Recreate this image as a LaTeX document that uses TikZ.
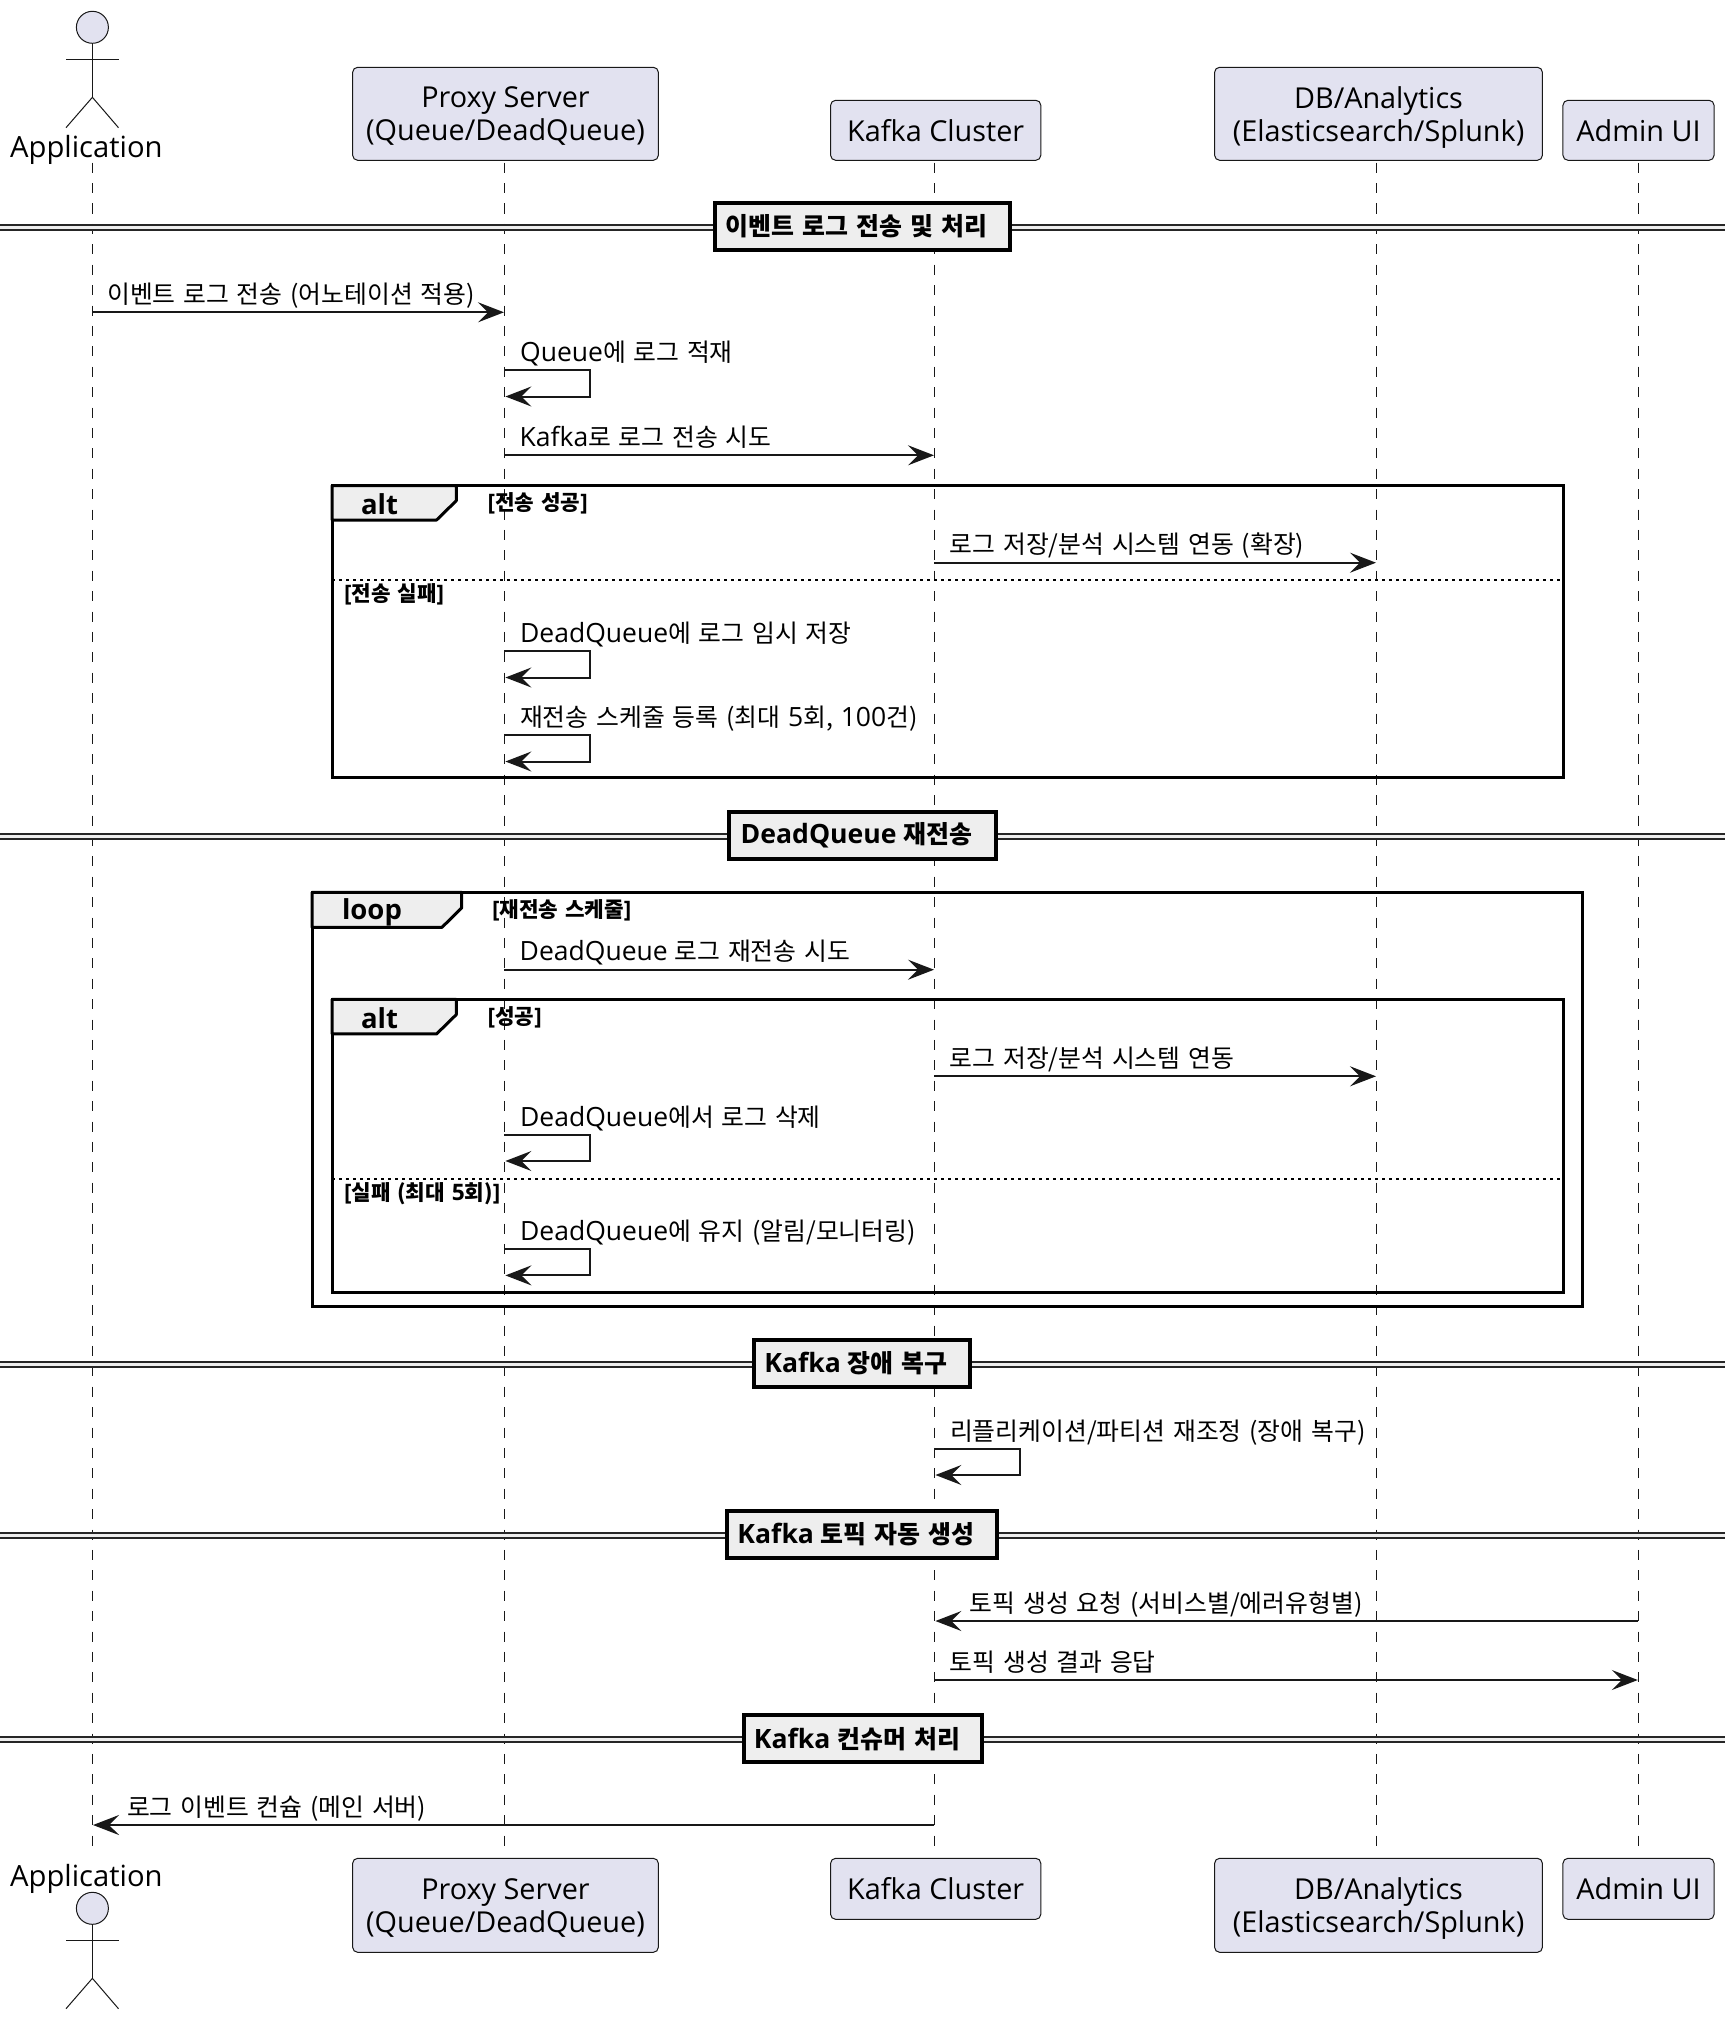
\documentclass[tikz,border=0pt]{standalone}
\usepackage{fontspec}
\setmainfont{Open Sans}
\newfontfamily\krfont[Scale=0.937,WordSpace=1.4]{Noto Sans CJK KR}
\usetikzlibrary{arrows.meta}
\newcommand\K[1]{{\krfont #1}}
\definecolor{ink}{HTML}{181818}
\definecolor{partfill}{HTML}{E2E2F0}
\definecolor{grp}{HTML}{EEEEEE}
\tikzset{
  part/.style={draw=ink,fill=partfill,line width=1pt,rounded corners=5pt,inner sep=0pt,align=center,font=\fontsize{28.8}{33}\selectfont,text=black},
  parttwo/.style={part,text depth=-1pt},
  actorname/.style={inner sep=0pt,font=\fontsize{29.2}{33}\selectfont,text=black,anchor=base},
  life/.style={draw=ink,line width=1pt,dash pattern=on 10pt off 10.4pt},
  msgline/.style={draw=ink,line width=2pt,-{Stealth[length=26pt,width=20pt,inset=10pt]}},
  msgtext/.style={inner sep=0pt,anchor=base west,font=\fontsize{26.5}{30}\selectfont,text=black},
  framebox/.style={draw=black,line width=3pt},
  tab/.style={draw=black,fill=grp,line width=3pt,line join=round},
  tabtext/.style={inner sep=0pt,font=\fontsize{27.5}{30}\selectfont\bfseries},
  guard/.style={inner sep=0pt,anchor=west,font=\fontsize{22.7}{26}\selectfont\bfseries},
  sep/.style={draw=black,line width=2pt,dash pattern=on 3pt off 4pt},
  divbox/.style={draw=black,fill=grp,line width=4pt,inner sep=0pt,font=\fontsize{26.6}{30}\selectfont\bfseries},
  divline/.style={draw=black!85,line width=2pt,double=grp,double distance=3pt},
}
\newcommand\Msg[6]{%
  \coordinate (#1s) at (#2,#4);
  \coordinate (#1e) at (#3,#4);
  \draw[msgline] (#1s) -- (#1e);
  \node[msgtext] (#1t) at (#5,#4-9) {#6};
}
\newcommand\Self[5]{%
  \coordinate (#1s) at (#2,#3);
  \coordinate (#1a) at (#2+85.5,#3);
  \coordinate (#1b) at (#2+85.5,#3+26.2);
  \coordinate (#1e) at (#2+1,#3+26.2);
  \draw[msgline,line join=miter] (#1s) -- (#1a) -- (#1b) -- (#1e);
  \node[msgtext] (#1t) at (#2+15.5,#3-8.7) {#5};
}
\newcommand\Divider[6]{%
  \coordinate (#1l) at (0,#2);
  \coordinate (#1r) at (1725,#2);
  \node[divbox,minimum width=#4-#3,minimum height=#6] (#1) at ({(#3+#4)/2},#2-0.8) {#5\rule{12pt}{0pt}};
  \draw[divline] (#1l) -- (#1l -| #1.west);
  \draw[divline] (#1r -| #1.east) -- (#1r);
}
\newcommand\Actor[2]{%
  \node[draw=ink,fill=partfill,line width=1pt,circle,minimum size=32pt,inner sep=0pt] (#1h) at (92.4,#2+16) {};
  \coordinate (#1n) at (92.4,#2+48);
  \coordinate (#1h1) at (66,#2+48);
  \coordinate (#1h2) at (118.5,#2+48);
  \coordinate (#1c) at (92.4,#2+86);
  \coordinate (#1f1) at (66,#2+116.4);
  \coordinate (#1f2) at (118.5,#2+116.4);
  \draw[ink,line width=1pt] (#1h.south) -- (#1c);
  \draw[ink,line width=1pt] (#1h1) -- (#1h2);
  \draw[ink,line width=1pt] (#1f1) -- (#1c) -- (#1f2);
}
\begin{document}
\begin{tikzpicture}[x=1pt,y=-1pt]
\useasboundingbox[fill=white] (0,0) rectangle (1736,2020);

% lifelines
\coordinate (LAt) at (92.4,162.7); \coordinate (LAb) at (92.4,1853);
\coordinate (LPt) at (504.4,162.7); \coordinate (LPb) at (504.4,1853);
\coordinate (LKt) at (934.4,162.7); \coordinate (LKb) at (934.4,1853);
\coordinate (LDt) at (1376.3,162.7); \coordinate (LDb) at (1376.3,1853);
\coordinate (LUt) at (1638.2,162.7); \coordinate (LUb) at (1638.2,1853);
\draw[life] (LAt) -- (LAb);
\draw[life] (LPt) -- (LPb);
\draw[life] (LKt) -- (LKb);
\draw[life] (LDt) -- (LDb);
\draw[life] (LUt) -- (LUb);

% participants top
\Actor{at}{11.3}
\node[actorname] (atn) at (86.4,157.5) {Application};
\node[parttwo,minimum width=305.7,minimum height=93] (pt) at (505.5,113.8) {Proxy Server\\(Queue/DeadQueue)};
\node[part,minimum width=210.2,minimum height=60] (kt) at (935.7,130.3) {Kafka Cluster};
\node[parttwo,minimum width=327.8,minimum height=93] (dt) at (1378.5,113.8) {DB/Analytics\\(Elasticsearch/Splunk)};
\node[part,minimum width=151.1,minimum height=60] (ut) at (1638.5,130.3) {Admin UI};

% participants bottom
\Actor{ab}{1892.3}
\node[actorname] (abn) at (86.4,1886.5) {Application};
\node[parttwo,minimum width=305.7,minimum height=94] (pb) at (505.5,1905.3) {Proxy Server\\(Queue/DeadQueue)};
\node[part,minimum width=210.2,minimum height=61] (kb) at (935.7,1888.8) {Kafka Cluster};
\node[parttwo,minimum width=327.8,minimum height=94] (db) at (1378.5,1905.3) {DB/Analytics\\(Elasticsearch/Splunk)};
\node[part,minimum width=151.1,minimum height=61] (ub) at (1638.5,1888.8) {Admin UI};

% dividers
\Divider{da}{227.3}{715.2}{1010}{\K{이벤트 로그 전송 및 처리}}{47}
\Divider{db2}{836}{729.2}{995.8}{DeadQueue \K{재전송}}{47}
\Divider{dc}{1364}{754}{970}{Kafka \K{장애 복구}}{47}
\Divider{dd}{1535}{727}{997}{Kafka \K{토픽 자동 생성}}{47}
\Divider{de}{1739.5}{743.8}{982}{Kafka \K{컨슈머 처리}}{47}

% messages
\Msg{m1}{92.4}{504}{312.3}{107}{\K{이벤트 로그 전송 (어노테이션 적용)}}
\Self{m2}{504.4}{370.3}{}{Queue\K{에 로그 적재}}
\Msg{m3}{504.4}{934}{455.3}{519.5}{Kafka\K{로 로그 전송 시도}}

% alt 1
\draw[framebox] (332,485.5) rectangle (1563,777.3);
\draw[tab] (332,485.5) -- (456.3,485.5) -- (456.3,500.7) -- (436.6,520) -- (332,520) -- cycle;
\node[tabtext] (altA) at (379.5,504.5) {alt};
\node[guard] (gA1) at (487.5,503.7) {[\K{전송 성공}]};
\Msg{m4}{934.4}{1376}{562.7}{949.5}{\K{로그 저장/분석 시스템 연동 (확장)}}
\coordinate (sAl) at (332,580.3); \coordinate (sAr) at (1563,580.3);
\draw[sep] (sAl) -- (sAr);
\node[guard] (gA2) at (343.8,594.5) {[\K{전송 실패}]};
\Self{m5}{504.4}{651.3}{}{DeadQueue\K{에 로그 임시 저장}}
\Self{m6}{504.4}{735.3}{}{\K{재전송 스케줄 등록 (최대 }5\K{회, }100\K{건)}}

% loop
\draw[framebox] (312,892.3) rectangle (1582,1306);
\draw[tab] (312,892.3) -- (461.6,892.3) -- (461.6,908) -- (442,927.3) -- (312,927.3) -- cycle;
\node[tabtext] (loopL) at (372,912) {loop};
\node[guard] (gL) at (492,910.5) {[\K{재전송 스케줄}]};
\Msg{m7}{504.4}{934}{969.7}{519.5}{DeadQueue \K{로그 재전송 시도}}

% alt 2
\draw[framebox] (332,999.3) rectangle (1563,1292.3);
\draw[tab] (332,999.3) -- (456.3,999.3) -- (456.3,1014.6) -- (436.6,1033.9) -- (332,1033.9) -- cycle;
\node[tabtext] (altB) at (379.5,1018.3) {alt};
\node[guard] (gB1) at (487.5,1017) {[\K{성공}]};
\Msg{m8}{934.4}{1376}{1076.3}{949.5}{\K{로그 저장/분석 시스템 연동}}
\Self{m9}{504.4}{1134.8}{}{DeadQueue\K{에서 로그 삭제}}
\coordinate (sBl) at (332,1179.3); \coordinate (sBr) at (1563,1179.3);
\draw[sep] (sBl) -- (sBr);
\node[guard] (gB2) at (343.8,1193.5) {[\K{실패 (최대 }5\K{회)}]};
\Self{m10}{504.4}{1249.2}{}{DeadQueue\K{에 유지 (알림/모니터링)}}

\Self{m11}{934.4}{1448.8}{}{\K{리플리케이션/파티션 재조정 (장애 복구)}}
\Msg{m12}{1638.2}{935.4}{1621}{969.7}{\K{토픽 생성 요청 (서비스별/에러유형별)}}
\Msg{m13}{934.4}{1637.8}{1680}{949.5}{\K{토픽 생성 결과 응답}}
\Msg{m14}{934.4}{93}{1825}{126.8}{\K{로그 이벤트 컨슘 (메인 서버)}}
\end{tikzpicture}
\end{document}
